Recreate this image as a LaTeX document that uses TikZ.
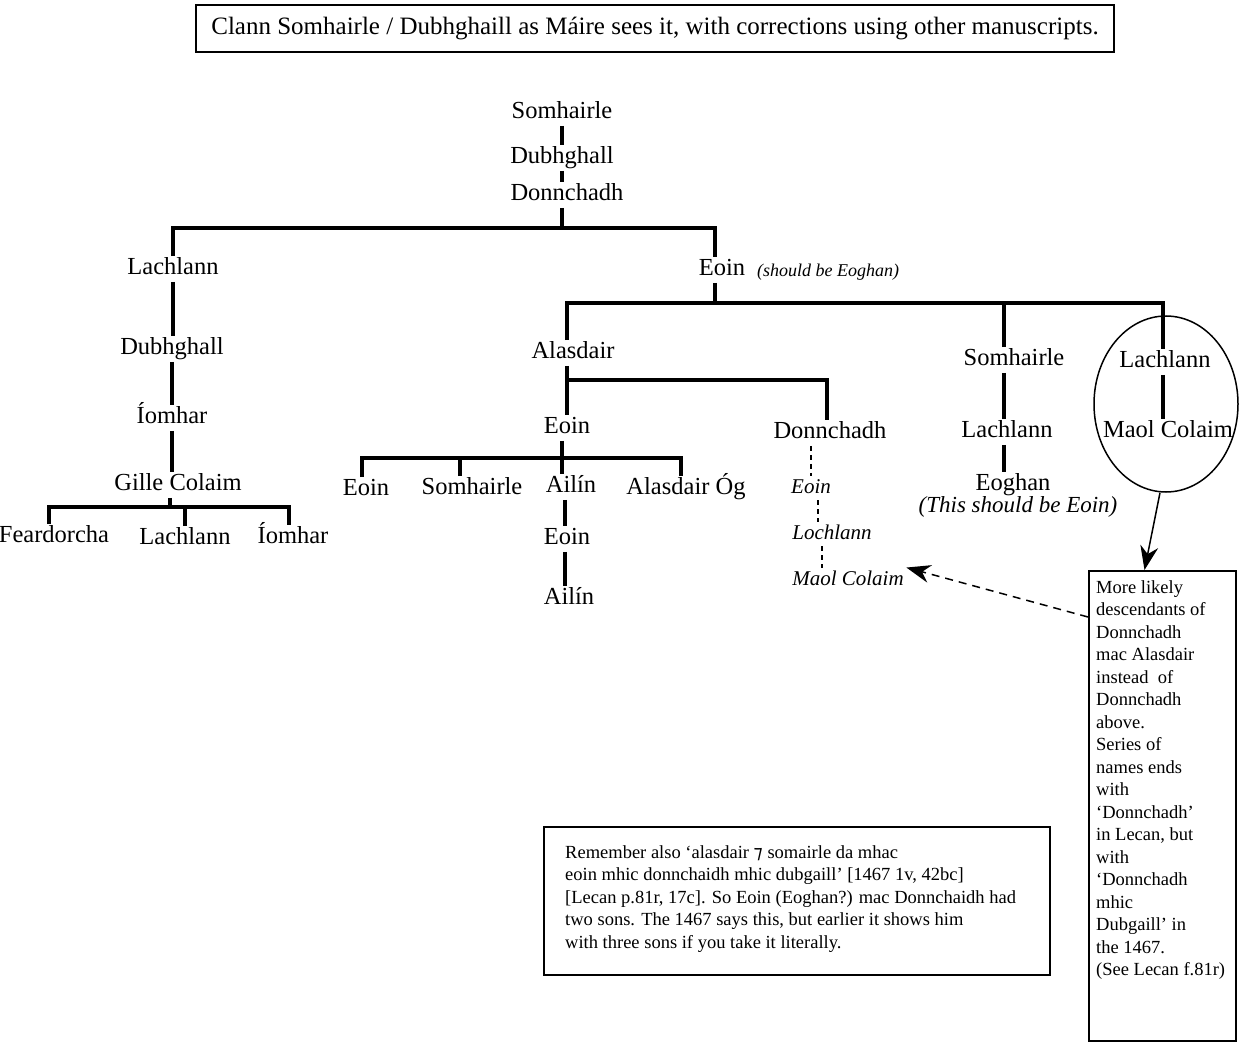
\documentclass[tikz,border=0pt]{standalone}
\usepackage{fontspec}
\setmainfont{Liberation Serif}
\newfontfamily\tironfont{DejaVu Sans}
\usetikzlibrary{arrows.meta,shapes.geometric}

\begin{document}
\begin{tikzpicture}[x=1pt,y=-1pt,>={Stealth[length=24pt,width=18pt]},
  main node/.style={font=\fontsize{24.5}{27}\selectfont,inner sep=2pt,yshift=-3pt,text height=16.5pt,text depth=5pt},
  sub node/.style={font=\fontsize{21}{23}\selectfont\itshape,inner sep=2.5pt,yshift=-3pt,text height=15pt,text depth=4.5pt},
  note node/.style={font=\fontsize{18.5}{22.5}\selectfont,align=left,anchor=north west,inner sep=0pt},
  rec node/.style={rectangle,draw,line width=2pt,anchor=north west,inner sep=0pt},
  line/.style={line width=4pt},
  dash line/.style={line width=2pt,dash pattern=on 5pt off 4pt}]

  \useasboundingbox (0,0) rectangle (1243,1043);

  % title
  \node[rectangle,draw,line width=2pt,minimum width=918,minimum height=47,
    font=\fontsize{25}{27}\selectfont] (title) at (655,28.5)
    {Clann Somhairle / Dubhghaill as Máire sees it, with corrections using other manuscripts.};

  % tree
  \node[main node] (1) at (562,110) {Somhairle};
  \node[main node] (2) at (562,155) {Dubhghall};
  \node[main node] (3) at (567,192) {Donnchadh};
  \node[main node] (4) at (173,266) {Lachlann};
  \node[main node] (5) at (172,346) {Dubhghall};
  \node[main node] (6) at (172,415) {Íomhar};
  \node[main node] (7) at (178,482) {Gille Colaim};
  \node[main node] (8) at (54,534) {Feardorcha};
  \node[main node] (9) at (185,536) {Lachlann};
  \node[main node] (10) at (293,535) {Íomhar};
  \node[main node] (11) at (722,267) {Eoin};
  \node[sub node,font=\fontsize{18}{20}\selectfont\itshape] (n1) at (828,268) {(should be Eoghan)};
  \node[main node] (12) at (573,350) {Alasdair};
  \node[main node] (13) at (1014,357) {Somhairle};
  \node[main node] (14) at (1165,359) {Lachlann};
  \node[main node] (15) at (567,425) {Eoin};
  \node[main node] (16) at (830,430) {Donnchadh};
  \node[main node] (17) at (366,487) {Eoin};
  \node[main node] (18) at (472,486) {Somhairle};
  \node[main node] (19) at (571,484) {Ailín};
  \node[main node] (20) at (686,486) {Alasdair Óg};
  \node[main node] (21) at (567,536) {Eoin};
  \node[main node] (22) at (569,596) {Ailín};
  \node[sub node] (23) at (811,485) {Eoin};
  \node[sub node] (24) at (832,531) {Lochlann};
  \node[sub node] (25) at (848,577) {Maol Colaim};
  \node[main node] (26) at (1007,429) {Lachlann};
  \node[main node] (27) at (1013,482) {Eoghan};
  \node[sub node,font=\fontsize{23}{25}\selectfont\itshape] (n2) at (1018,504) {(This should be Eoin)};
  \node[main node] (28) at (1168,429) {Maol Colaim};
  \node[ellipse,draw,line width=1.5pt,minimum width=144,minimum height=176] (29) at (1166,404) {};

  % notes
  \node[rec node,minimum width=147,minimum height=470] (30) at (1088,570) {};
  \node[note node] (31) at (1096,580) {More likely\\descendants of\\Donnchadh\\mac Alasdair\\instead\ \ of\\Donnchadh\\above.\\Series of\\names ends\\with\\‘Donnchadh’\\in Lecan, but\\with\\‘Donnchadh\\mhic\\Dubgaill’ in\\the 1467.\\(See Lecan f.81r)};
  \node[rec node,minimum width=506,minimum height=148] (32) at (543,826) {};
  \node[note node] (33) at (565,845) {Remember also ‘alasdair {\tironfont ⁊} somairle da mhac\\eoin mhic donnchaidh mhic dubgaill’ [1467 1v, 42bc]\\{[}Lecan p.81r, 17c]. So Eoin (Eoghan?) mac Donnchaidh had\\two sons. The 1467 says this, but earlier it shows him\\with three sons if you take it literally.};

  \coordinate (j1) at (562,228);
  \coordinate (j2) at (170,507);
  \coordinate (j3) at (715,303);
  \coordinate (j4) at (567,380);
  \coordinate (j5) at (562,458);

  \draw[line] (1) -- (2);
  \draw[line] (2.south) -- (2.south |- 3.north);
  \draw[line] (3.south -| j1) -- (j1);
  \draw[line] (4.north) |- (j1) -| ([xshift=-7]11.north);
  \draw[line] (4.south) -- (4.south |- 5.north);
  \draw[line] (5) -- (6);
  \draw[line] (6.south) -- (6.south |- 7.north);
  \draw[line] (7.south -| j2) -- (j2);
  \draw[line] ([xshift=-5]8.north) |- (j2) -| ([xshift=-4]10.north);
  \draw[line] (9.north) -- (9.north |- j2);

  \draw[line] ([xshift=-7]11.south) -- (j3);
  \draw[line] ([xshift=-6]12.north) |- (j3) -| ([xshift=-2]14.north);
  \draw[line] ([xshift=-10]13.north) -- ([xshift=-10]13.north |- j3);
  \draw[line] ([xshift=-6]12.south) -- ([xshift=-6]12.south |- 15.north);
  \draw[line] (j4) -| ([xshift=-3]16.north);
  \draw[line] (15.south -| j5) -- (j5) -- (j5 |- 19.north);
  \draw[line] ([xshift=-4]17.north) |- (j5) -| ([xshift=-5]20.north);
  \draw[line] ([xshift=-12]18.north) -- ([xshift=-12]18.north |- j5);
  \draw[line] ([xshift=-6]19.south) -- ([xshift=-6]19.south |- 21.north);
  \draw[line] ([xshift=-2]21.south) -- ([xshift=-2]21.south |- 22.north);
  \draw[line] ([xshift=-10]13.south) -- ([xshift=-10]13.south |- 26.north);
  \draw[line] ([xshift=-3]26.south) -- ([xshift=-3]26.south |- 27.north);
  \draw[line] ([xshift=-2]14.south) -- ([xshift=-2]14.south |- 28.north);

  \draw[dash line] (23.north |- 16.south) -- (23.north);
  \draw[dash line] ([xshift=-14]24.north |- 23.south) -- ([xshift=-14]24.north);
  \draw[dash line] ([xshift=-26]25.north |- 24.south) -- ([xshift=-26]25.north);

  \draw[->,line width=1.5pt] ([xshift=-6]29.south) -- ([xshift=-18]30.north);
  \draw[->,line width=1.5pt,dash pattern=on 8pt off 6pt] ([yshift=-47]30.north west) -- (25.north east);

\end{tikzpicture}
\end{document}
